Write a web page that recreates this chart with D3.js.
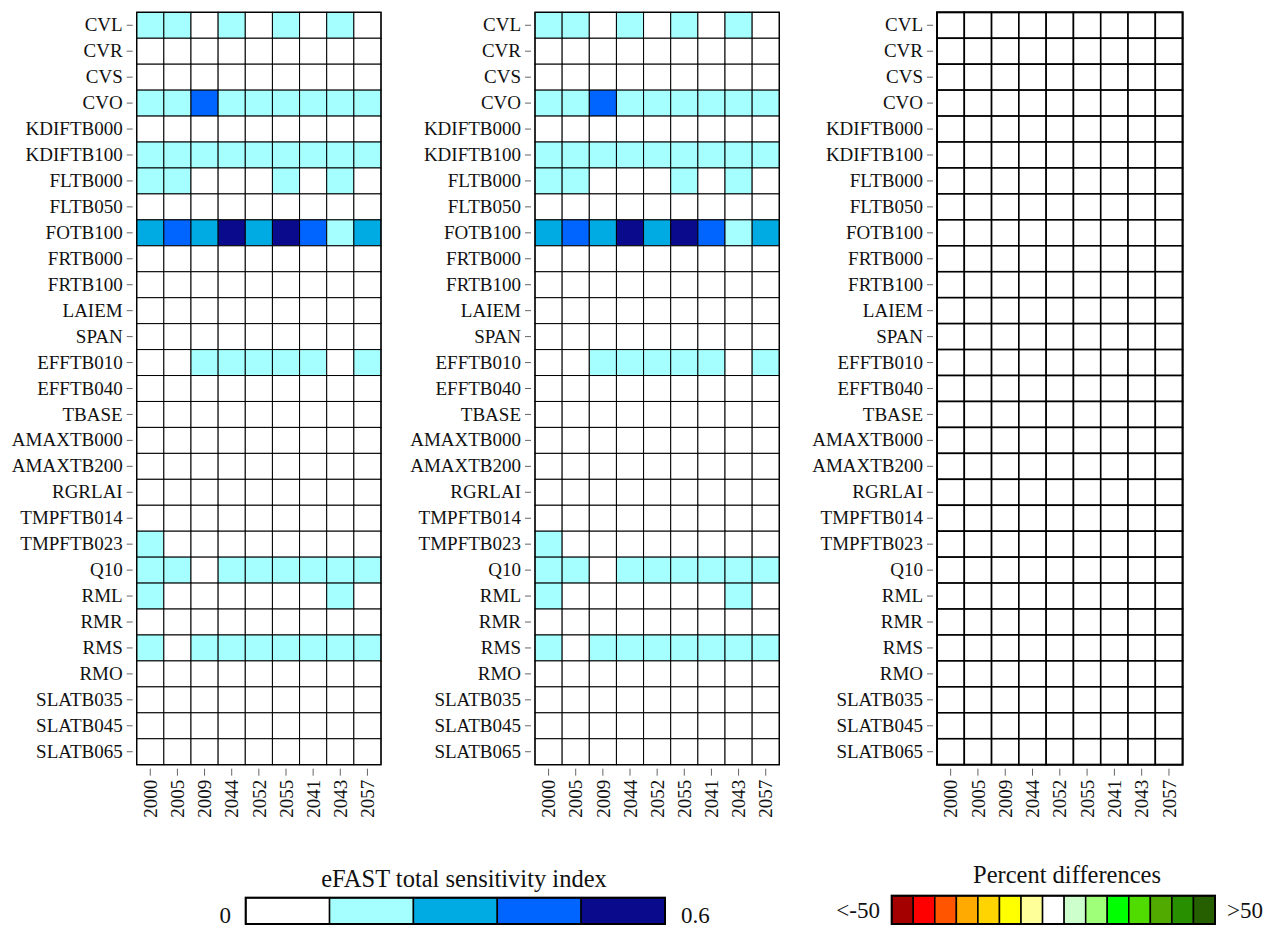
<!DOCTYPE html>
<html><head><meta charset="utf-8">
<script src="https://cdn.jsdelivr.net/npm/d3@7"></script>
<style>
body{margin:0;background:#fff}
text{font-family:"Liberation Serif","Times New Roman",serif;fill:#111}
</style>
</head><body><svg id="c" width="1279" height="927"></svg>
<script>
// ---- data ----
const sites = ["2000","2005","2009","2044","2052","2055","2041","2043","2057"];
const parameters = ["CVL","CVR","CVS","CVO","KDIFTB000","KDIFTB100","FLTB000","FLTB050","FOTB100",
  "FRTB000","FRTB100","LAIEM","SPAN","EFFTB010","EFFTB040","TBASE","AMAXTB000","AMAXTB200","RGRLAI",
  "TMPFTB014","TMPFTB023","Q10","RML","RMR","RMS","RMO","SLATB035","SLATB045","SLATB065"];
// eFAST total sensitivity index, first run (rows = parameters, cols = sites)
const sensRunA = [
  [0.16,0.15,0.08,0.14,0.09,0.15,0.07,0.14,0.08],
  [0.02,0.02,0.01,0.02,0.02,0.02,0.02,0.02,0.02],
  [0.01,0.01,0.01,0.01,0.01,0.01,0.01,0.01,0.01],
  [0.18,0.17,0.40,0.16,0.18,0.15,0.17,0.19,0.17],
  [0.03,0.03,0.02,0.03,0.03,0.03,0.03,0.03,0.03],
  [0.20,0.19,0.17,0.18,0.19,0.18,0.19,0.20,0.18],
  [0.14,0.13,0.08,0.10,0.09,0.13,0.08,0.13,0.09],
  [0.03,0.03,0.02,0.03,0.03,0.03,0.03,0.03,0.03],
  [0.30,0.41,0.31,0.54,0.32,0.55,0.40,0.19,0.29],
  [0.01,0.01,0.01,0.01,0.01,0.01,0.01,0.01,0.01],
  [0.02,0.02,0.02,0.02,0.02,0.02,0.02,0.02,0.02],
  [0.01,0.01,0.01,0.01,0.01,0.01,0.01,0.01,0.01],
  [0.04,0.04,0.03,0.04,0.04,0.04,0.04,0.04,0.04],
  [0.09,0.10,0.15,0.16,0.17,0.16,0.15,0.10,0.14],
  [0.02,0.02,0.02,0.02,0.02,0.02,0.02,0.02,0.02],
  [0.03,0.03,0.03,0.03,0.03,0.03,0.03,0.03,0.03],
  [0.02,0.02,0.02,0.02,0.02,0.02,0.02,0.02,0.02],
  [0.03,0.03,0.03,0.03,0.03,0.03,0.03,0.03,0.03],
  [0.02,0.02,0.02,0.02,0.02,0.02,0.02,0.02,0.02],
  [0.04,0.04,0.03,0.04,0.04,0.04,0.04,0.04,0.04],
  [0.13,0.10,0.06,0.08,0.08,0.09,0.08,0.10,0.08],
  [0.17,0.15,0.09,0.16,0.17,0.16,0.17,0.18,0.16],
  [0.14,0.10,0.06,0.09,0.08,0.09,0.09,0.13,0.09],
  [0.03,0.03,0.03,0.03,0.03,0.03,0.03,0.03,0.03],
  [0.15,0.11,0.14,0.16,0.17,0.15,0.16,0.17,0.15],
  [0.02,0.02,0.02,0.02,0.02,0.02,0.02,0.02,0.02],
  [0.03,0.03,0.03,0.03,0.03,0.03,0.03,0.03,0.03],
  [0.02,0.02,0.02,0.02,0.02,0.02,0.02,0.02,0.02],
  [0.02,0.02,0.02,0.02,0.02,0.02,0.02,0.02,0.02]
];
// eFAST total sensitivity index, second run
const sensRunB = [
  [0.16,0.15,0.08,0.14,0.09,0.15,0.07,0.14,0.08],
  [0.02,0.02,0.01,0.02,0.02,0.02,0.02,0.02,0.02],
  [0.01,0.01,0.01,0.01,0.01,0.01,0.01,0.01,0.01],
  [0.18,0.17,0.40,0.16,0.18,0.15,0.17,0.19,0.17],
  [0.03,0.03,0.02,0.03,0.03,0.03,0.03,0.03,0.03],
  [0.20,0.19,0.17,0.18,0.19,0.18,0.19,0.20,0.18],
  [0.14,0.13,0.08,0.10,0.09,0.13,0.08,0.13,0.09],
  [0.03,0.03,0.02,0.03,0.03,0.03,0.03,0.03,0.03],
  [0.30,0.41,0.31,0.54,0.32,0.55,0.40,0.19,0.29],
  [0.01,0.01,0.01,0.01,0.01,0.01,0.01,0.01,0.01],
  [0.02,0.02,0.02,0.02,0.02,0.02,0.02,0.02,0.02],
  [0.01,0.01,0.01,0.01,0.01,0.01,0.01,0.01,0.01],
  [0.04,0.04,0.03,0.04,0.04,0.04,0.04,0.04,0.04],
  [0.09,0.10,0.15,0.16,0.17,0.16,0.15,0.10,0.14],
  [0.02,0.02,0.02,0.02,0.02,0.02,0.02,0.02,0.02],
  [0.03,0.03,0.03,0.03,0.03,0.03,0.03,0.03,0.03],
  [0.02,0.02,0.02,0.02,0.02,0.02,0.02,0.02,0.02],
  [0.03,0.03,0.03,0.03,0.03,0.03,0.03,0.03,0.03],
  [0.02,0.02,0.02,0.02,0.02,0.02,0.02,0.02,0.02],
  [0.04,0.04,0.03,0.04,0.04,0.04,0.04,0.04,0.04],
  [0.13,0.10,0.06,0.08,0.08,0.09,0.08,0.10,0.08],
  [0.17,0.15,0.09,0.16,0.17,0.16,0.17,0.18,0.16],
  [0.14,0.10,0.06,0.09,0.08,0.09,0.09,0.13,0.09],
  [0.03,0.03,0.03,0.03,0.03,0.03,0.03,0.03,0.03],
  [0.15,0.11,0.14,0.16,0.17,0.15,0.16,0.17,0.15],
  [0.02,0.02,0.02,0.02,0.02,0.02,0.02,0.02,0.02],
  [0.03,0.03,0.03,0.03,0.03,0.03,0.03,0.03,0.03],
  [0.02,0.02,0.02,0.02,0.02,0.02,0.02,0.02,0.02],
  [0.02,0.02,0.02,0.02,0.02,0.02,0.02,0.02,0.02]
];
// percent differences between the two runs (all near zero)
const pctDiff = parameters.map(() => sites.map(() => 0));

const sensColors = ["#ffffff","#a6ffff","#00aae2","#0064ff","#0a0a8c"];
const sensDomain = [0, 0.6];
const sensTickLabels = ["0","0.6"];
const pctColors = ["#a50000","#ff0000","#ff5500","#ffaa00","#ffd400","#ffff00","#ffff99","#ffffff",
  "#ccffcc","#a0ff78","#00ff00","#50dc00","#50aa00","#289000","#255f00"];
const pctDomain = [-50, 50];
const pctTickLabels = ["<-50", ">50"];
const sensTitle = "eFAST total sensitivity index";
const pctTitle = "Percent differences";

// ---- drawing ----
const svg = d3.select("#c");
const gridTop = 12.3, gridBottom = 764.7;
const sensScale = d3.scaleQuantize().domain(sensDomain).range(sensColors);
const pctScale = d3.scaleQuantize().domain(pctDomain).range(pctColors);
const yScale = d3.scaleBand().domain(parameters).range([gridTop, gridBottom]);

function panel(x0, x1, values, color, sw) {
  const x = d3.scaleBand().domain(sites).range([x0, x1]);
  const g = svg.append("g");
  const cells = [];
  parameters.forEach((p, i) => sites.forEach((s, j) => cells.push({p, s, v: values[i][j]})));
  g.selectAll("rect").data(cells).join("rect")
    .attr("x", d => x(d.s)).attr("y", d => yScale(d.p))
    .attr("width", x.bandwidth()).attr("height", yScale.bandwidth())
    .attr("fill", d => color(d.v))
    .attr("stroke", "#000").attr("stroke-width", sw);
  g.append("rect").attr("x", x0).attr("y", gridTop).attr("width", x1 - x0).attr("height", gridBottom - gridTop)
    .attr("fill", "none").attr("stroke", "#000").attr("stroke-width", sw + 0.3);

  const ya = svg.append("g").attr("transform", `translate(${x0 - 4},0)`)
    .call(d3.axisLeft(yScale).tickSize(6).tickPadding(4));
  ya.select(".domain").remove();
  ya.selectAll(".tick line").attr("stroke", "#666");
  ya.selectAll("text").attr("font-size", 19).attr("font-family", '"Liberation Serif",serif').attr("fill", "#111");

  const xa = svg.append("g").attr("transform", `translate(0,${gridBottom + 4})`)
    .call(d3.axisBottom(x).tickSize(7).tickPadding(4));
  xa.select(".domain").remove();
  xa.selectAll(".tick line").attr("stroke", "#666");
  xa.selectAll("text").attr("font-size", 19).attr("font-family", '"Liberation Serif",serif').attr("fill", "#111")
    .attr("transform", "rotate(-90)").attr("text-anchor", "end")
    .attr("x", -11).attr("y", 0).attr("dy", "0.35em");
}

panel(136.7, 381, sensRunA, sensScale, 1);
panel(535, 779.3, sensRunB, sensScale, 1);
panel(937, 1182.6, pctDiff, pctScale, 1.6);

function legend(x0, x1, y0, y1, colors, title, titleX, titleY, labels, lx0, lx1, ly) {
  const lx = d3.scaleBand().domain(d3.range(colors.length)).range([x0, x1]);
  const g = svg.append("g");
  g.selectAll("rect").data(colors).join("rect")
    .attr("x", (d, i) => lx(i)).attr("y", y0).attr("width", lx.bandwidth()).attr("height", y1 - y0)
    .attr("fill", d => d).attr("stroke", "#000").attr("stroke-width", 1.5);
  g.append("rect").attr("x", x0).attr("y", y0).attr("width", x1 - x0).attr("height", y1 - y0)
    .attr("fill", "none").attr("stroke", "#000").attr("stroke-width", 2);
  g.append("text").attr("x", titleX).attr("y", titleY).attr("text-anchor", "middle")
    .attr("font-size", 24.5).text(title);
  g.append("text").attr("x", lx0).attr("y", ly).attr("text-anchor", "end").attr("font-size", 23).text(labels[0]);
  g.append("text").attr("x", lx1).attr("y", ly).attr("text-anchor", "start").attr("font-size", 23).text(labels[1]);
}
legend(245.7, 665, 897.7, 924, sensColors, sensTitle, 464, 887, sensTickLabels, 231, 681, 923);
legend(891.7, 1215, 895.7, 924, pctColors, pctTitle, 1067, 883, pctTickLabels, 880, 1227, 918);
</script></body></html>
